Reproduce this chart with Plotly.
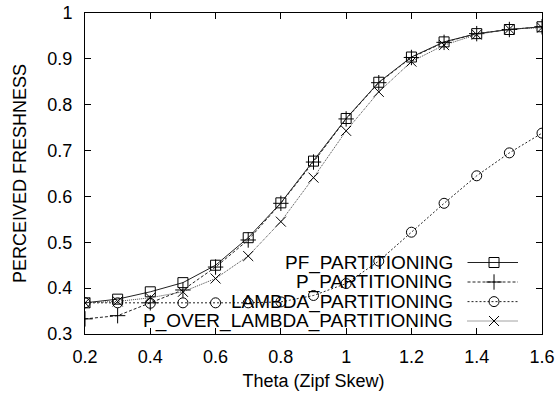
import plotly.graph_objects as go

theta = [0.2, 0.3, 0.4, 0.5, 0.6, 0.7, 0.8, 0.9, 1.0, 1.1, 1.2, 1.3, 1.4, 1.5, 1.6]
pf_part = [0.368, 0.376, 0.392, 0.412, 0.450, 0.510, 0.586, 0.677, 0.770, 0.849, 0.904, 0.937, 0.955, 0.964, 0.970]
p_part = [0.333, 0.340, 0.368, 0.396, 0.446, 0.505, 0.585, 0.675, 0.769, 0.848, 0.903, 0.936, 0.955, 0.964, 0.970]
lambda_part = [0.368, 0.368, 0.367, 0.368, 0.368, 0.368, 0.370, 0.384, 0.410, 0.459, 0.522, 0.585, 0.645, 0.695, 0.738]
p_over_lambda = [0.368, 0.371, 0.379, 0.392, 0.421, 0.470, 0.545, 0.641, 0.743, 0.828, 0.894, 0.930, 0.953, 0.965, 0.968]

x_ticks = [0.2, 0.4, 0.6, 0.8, 1.0, 1.2, 1.4, 1.6]
x_tick_text = ["0.2", "0.4", "0.6", "0.8", "1", "1.2", "1.4", "1.6"]
y_ticks = [0.3, 0.4, 0.5, 0.6, 0.7, 0.8, 0.9, 1.0]
y_tick_text = ["0.3", "0.4", "0.5", "0.6", "0.7", "0.8", "0.9", "1"]

names = ["PF_PARTITIONING", "P_PARTITIONING", "LAMBDA_PARTITIONING", "P_OVER_LAMBDA_PARTITIONING"]
series = [pf_part, p_part, lambda_part, p_over_lambda]
dashes = ["solid", "3px,2px", "2px,2px", "1px,1px"]
colors = ["#222222", "#222222", "#222222", "#444444"]
symbols = ["square-open", "cross-thin-open", "circle-open", "x-thin-open"]
sizes = [10, 11, 10, 10]

FONT = "Liberation Sans, Arial, sans-serif"
FS = 18
FS_LEG = 19

fig = go.Figure()
for n, s, d, c, sym, sz in zip(names, series, dashes, colors, symbols, sizes):
    fig.add_trace(go.Scatter(
        x=theta, y=s, mode="lines+markers", name=n, showlegend=False,
        line=dict(color=c, width=1, dash=d),
        marker=dict(symbol=sym, size=sz, color="#000000", line=dict(width=1, color="#000000")),
    ))

# manual legend: text on the left (right aligned), sample on the right
row_y = [0.2227, 0.1620, 0.1009, 0.0405]
x_text = 0.8096
x_l0, x_l1, x_m = 0.837, 0.9475, 0.895
for n, d, c, sym, sz, ry in zip(names, dashes, colors, symbols, sizes, row_y):
    fig.add_trace(go.Scatter(
        x=[x_l0, x_l1], y=[ry, ry], mode="lines", xaxis="x2", yaxis="y2",
        showlegend=False, hoverinfo="skip",
        line=dict(color=c, width=1, dash=d),
    ))
    fig.add_trace(go.Scatter(
        x=[x_m], y=[ry], mode="markers", xaxis="x2", yaxis="y2",
        showlegend=False, hoverinfo="skip",
        marker=dict(symbol=sym, size=sz, color="#000000", line=dict(width=1, color="#000000")),
    ))
    fig.add_annotation(
        x=x_text, y=ry, xref="paper", yref="paper", text=n, showarrow=False,
        xanchor="right", yanchor="middle", font=dict(family=FONT, size=FS_LEG, color="#000000"),
    )

axis_common = dict(
    showgrid=False, zeroline=False, showline=True, linecolor="#000000", linewidth=1,
    mirror="allticks", ticks="inside", ticklen=6, tickcolor="#000000", tickwidth=1,
    tickfont=dict(family=FONT, size=FS, color="#000000"), automargin=False,
)

fig.update_layout(
    width=556, height=394,
    margin=dict(l=85, r=14, t=13, b=60),
    plot_bgcolor="#ffffff", paper_bgcolor="#ffffff",
    xaxis=dict(range=[0.2, 1.6], tickvals=x_ticks, ticktext=x_tick_text,
               title=dict(text="Theta (Zipf Skew)", font=dict(family=FONT, size=FS, color="#000000"), standoff=8),
               ticklabelstandoff=6, **axis_common),
    yaxis=dict(range=[0.3, 1.0], tickvals=y_ticks, ticktext=y_tick_text,
               title=dict(text="PERCEIVED FRESHNESS", font=dict(family=FONT, size=FS, color="#000000"), standoff=16),
               ticklabelstandoff=8, **axis_common),
    xaxis2=dict(range=[0, 1], overlaying="x", visible=False, fixedrange=True),
    yaxis2=dict(range=[0, 1], overlaying="y", visible=False, fixedrange=True),
    showlegend=False,
)

fig.write_html("out.html")
